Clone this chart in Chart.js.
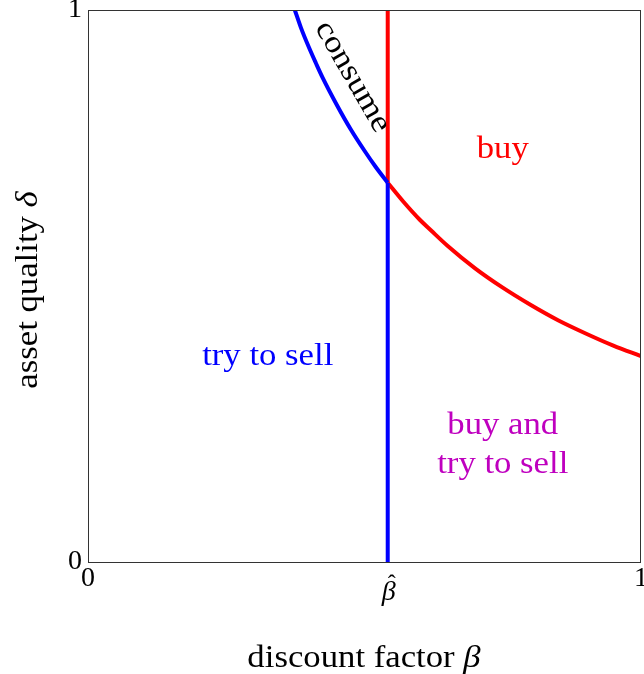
<!DOCTYPE html>
<html><head><meta charset="utf-8">
<script src="https://cdn.jsdelivr.net/npm/chart.js@4/dist/chart.umd.min.js"></script>
<style>html,body{margin:0;padding:0;background:#fff}#wrap{width:644px;height:674px}</style>
</head><body><div id="wrap"><canvas id="c" width="644" height="674"></canvas></div>
<script>
// threshold discount factor (beta hat)
const betaHat = 0.542;
const crossDelta = 0.687;
// "consume" boundary (blue), beta -> delta
const blueBeta  = [0.374, 0.385, 0.40, 0.412, 0.424, 0.45, 0.475, 0.50, 0.52, 0.542];
const blueDelta = [1.0,   0.968, 0.931, 0.904, 0.878, 0.828, 0.784, 0.745, 0.716, 0.687];
// "buy" boundary (red), beta -> delta
const redBeta  = [0.542, 0.57, 0.60, 0.62, 0.65, 0.70, 0.75, 0.80, 0.85, 0.90, 0.95, 1.0];
const redDelta = [0.687, 0.653, 0.62, 0.601, 0.573, 0.532, 0.497, 0.466, 0.438, 0.414, 0.392, 0.373];
// vertical lines at beta hat
const blueVert = [0, crossDelta];
const redVert = [crossDelta, 1];
// tick labels
const xTickVals = [0, betaHat, 1];
const xTickLabels = ['0', 'β', '1'];
const yTickVals = [0, 1];
const yTickLabels = ['0', '1'];
// region labels [text, beta, delta, color]
const regionLabels = [
  ['buy', 0.75, 0.747, '#ff0000'],
  ['try to sell', 0.325, 0.372, '#0000ff'],
  ['buy and', 0.75, 0.246, '#bf00bf'],
  ['try to sell', 0.75, 0.176, '#bf00bf']
];
const consumeLabel = ['consume', 0.478, 0.879, 60];

const pts = (xs, ys) => xs.map((x, i) => ({x, y: ys[i]}));
const SERIF = '"Liberation Serif", "DejaVu Serif", serif';
const SX = 1.12; // horizontal stretch to approximate Computer Modern widths

const overlay = {
  id: 'overlay',
  afterDatasetsDraw(chart) {
    const {ctx, chartArea: a, scales: {x, y}} = chart;
    ctx.save();
    ctx.strokeStyle = '#333';
    ctx.lineWidth = 1;
    ctx.strokeRect(a.left + 0.5, a.top + 0.5, a.right - a.left - 1, a.bottom - a.top);
    ctx.textAlign = 'center';
    ctx.textBaseline = 'middle';
    ctx.font = '31px ' + SERIF;
    regionLabels.forEach(([t, bx, dy, col]) => {
      ctx.save();
      ctx.fillStyle = col;
      ctx.translate(x.getPixelForValue(bx), y.getPixelForValue(dy));
      ctx.scale(SX, 1);
      ctx.fillText(t, 0, 0);
      ctx.restore();
    });
    const [ct, cb, cd, ang] = consumeLabel;
    ctx.save();
    ctx.translate(x.getPixelForValue(cb), y.getPixelForValue(cd));
    ctx.rotate(ang * Math.PI / 180);
    ctx.scale(SX, 1);
    ctx.fillStyle = '#000';
    ctx.fillText(ct, 0, 0);
    ctx.restore();
    ctx.restore();
  },
  afterDraw(chart) {
    const {ctx, scales: {x}} = chart;
    ctx.save();
    ctx.fillStyle = '#000';
    // beta-hat tick label, placed at the scale's pixel for betaHat, lower than the others (hat on top)
    const bx = x.getPixelForValue(xTickVals[1]);
    ctx.textAlign = 'center';
    ctx.textBaseline = 'alphabetic';
    ctx.font = 'italic 28px ' + SERIF;
    ctx.fillText(xTickLabels[1], bx + 1, 600);
    ctx.font = '24px ' + SERIF;
    ctx.fillText('ˆ', bx + 4, 591);
    const drawMixed = (parts, cx, cy) => {
      let w = 0;
      parts.forEach(p => { ctx.font = p[1] + SERIF; w += ctx.measureText(p[0]).width; });
      ctx.save();
      ctx.translate(cx, cy);
      ctx.scale(SX, 1);
      let px = -w / 2;
      ctx.textAlign = 'left';
      parts.forEach(p => { ctx.font = p[1] + SERIF; ctx.fillText(p[0], px, 0); px += ctx.measureText(p[0]).width; });
      ctx.restore();
    };
    drawMixed([['discount factor ', '31px '], ['β', 'italic 31px ']], 364, 667);
    ctx.translate(37, 290);
    ctx.rotate(-Math.PI / 2);
    drawMixed([['asset quality ', '31px '], ['δ', 'italic 31px ']], 0, 0);
    ctx.restore();
  }
};

new Chart(document.getElementById('c'), {
  type: 'scatter',
  data: {
    datasets: [
      {data: pts(blueBeta, blueDelta), borderColor: '#0000ff'},
      {data: pts([betaHat, betaHat], blueVert), borderColor: '#0000ff'},
      {data: pts(redBeta, redDelta), borderColor: '#ff0000'},
      {data: pts([betaHat, betaHat], redVert), borderColor: '#ff0000'}
    ].map(d => Object.assign(d, {showLine: true, pointRadius: 0, borderWidth: 4, cubicInterpolationMode: 'monotone', fill: false}))
  },
  options: {
    responsive: false,
    animation: false,
    events: [],
    layout: {padding: {top: 10, right: 3, left: 0, bottom: 0}},
    plugins: {legend: {display: false}, tooltip: {enabled: false}},
    scales: {
      x: {
        type: 'linear', min: 0, max: 1,
        grid: {display: false, drawTicks: false},
        border: {display: false},
        afterBuildTicks: s => { s.ticks = xTickVals.map(v => ({value: v})); },
        afterFit: s => { s.height = 112; s.paddingLeft = 0; s.paddingRight = 0; },
        ticks: {
          autoSkip: false, maxRotation: 0, padding: 0,
          color: c => c.index === 1 ? 'rgba(0,0,0,0)' : '#000',
          font: {family: SERIF, size: 28},
          callback: (v, i) => xTickLabels[i]
        }
      },
      y: {
        type: 'linear', min: 0, max: 1,
        grid: {display: false, drawTicks: false},
        border: {display: false},
        afterBuildTicks: s => { s.ticks = yTickVals.map(v => ({value: v})); },
        afterFit: s => { s.width = 88; s.paddingTop = 0; s.paddingBottom = 0; },
        ticks: {
          autoSkip: false, padding: 6, color: '#000',
          font: {family: SERIF, size: 28},
          callback: (v, i) => yTickLabels[i]
        }
      }
    }
  },
  plugins: [overlay]
});
</script></body></html>
